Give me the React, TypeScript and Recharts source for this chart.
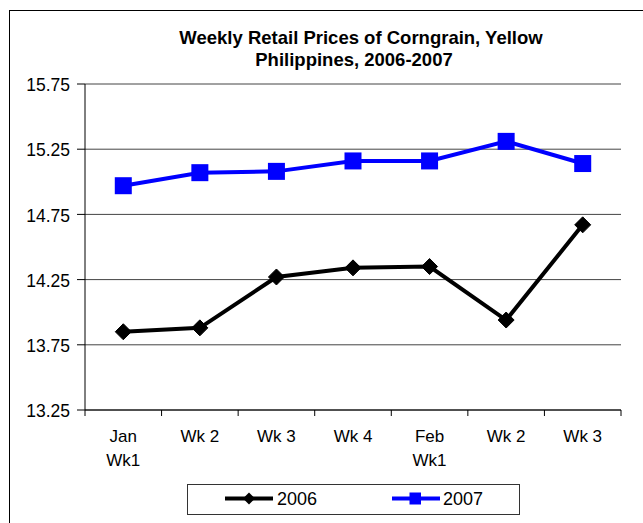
import React from "react";
import {
  LineChart,
  Line,
  XAxis,
  YAxis,
  CartesianGrid,
} from "recharts";

const categories = ["Jan\nWk1", "Wk 2", "Wk 3", "Wk 4", "Feb\nWk1", "Wk 2", "Wk 3"];
const prices2006 = [13.85, 13.88, 14.27, 14.34, 14.35, 13.94, 14.67];
const prices2007 = [14.97, 15.07, 15.08, 15.16, 15.16, 15.31, 15.14];
const yTicks = [13.25, 13.75, 14.25, 14.75, 15.25, 15.75];
const titleLines = ["Weekly Retail Prices of Corngrain, Yellow", "Philippines, 2006-2007"];
const seriesNames = ["2006", "2007"];

const data = categories.map((c, i) => ({
  pos: i + 0.5,
  label: c,
  y2006: prices2006[i],
  y2007: prices2007[i],
}));
const bandTicks = [0, ...categories.map((_, i) => i + 1)];
const centerTicks = categories.map((_, i) => i + 0.5);

const FONT = "'Liberation Sans', Arial, Helvetica, sans-serif";

const Diamond = (props: any) => {
  const { cx, cy } = props;
  if (cx == null || cy == null) return null;
  const r = 8;
  return (
    <polygon
      points={`${cx},${cy - r} ${cx + r},${cy} ${cx},${cy + r} ${cx - r},${cy}`}
      fill="#000000"
      stroke="#000000"
    />
  );
};

const Square = (props: any) => {
  const { cx, cy } = props;
  if (cx == null || cy == null) return null;
  const r = 8.5;
  return <rect x={cx - r} y={cy - r} width={2 * r} height={2 * r} fill="#0000FF" />;
};

const XTick = (props: any) => {
  const { x, y, payload } = props;
  const idx = Math.round(payload.value - 0.5);
  const lines = String(categories[idx] ?? "").split("\n");
  return (
    <text x={x} y={y} textAnchor="middle" fontFamily={FONT} fontSize={17} fill="#000">
      {lines.map((l, i) => (
        <tspan key={i} x={x} dy={i === 0 ? 23 : 24}>
          {l}
        </tspan>
      ))}
    </text>
  );
};

const EmptyTick = () => <g />;

export default function App() {
  return (
    <div style={{ position: "absolute", left: 0, top: 0, width: 643, height: 523, background: "#fff", overflow: "hidden" }}>
      <div
        style={{
          position: "absolute",
          left: 9,
          top: 10,
          width: 700,
          height: 600,
          border: "1px solid #000",
          boxSizing: "border-box",
        }}
      />
      <svg width={643} height={80} style={{ position: "absolute", left: 0, top: 0 }}>
        <text x={361} y={44} textAnchor="middle" fontFamily={FONT} fontWeight="bold" fontSize={18.5} fill="#000">
          {titleLines[0]}
        </text>
        <text x={354} y={66} textAnchor="middle" fontFamily={FONT} fontWeight="bold" fontSize={18.5} fill="#000">
          {titleLines[1]}
        </text>
      </svg>
      <div style={{ position: "absolute", left: 0, top: 0 }}>
        <LineChart
          width={643}
          height={523}
          data={data}
          margin={{ top: 84, right: 22, left: 0, bottom: 0 }}
        >
          <CartesianGrid vertical={false} stroke="#444" strokeWidth={1} yAxisId="left" xAxisId="cat" />
          <XAxis
            xAxisId="band"
            type="number"
            dataKey="pos"
            domain={[0, 7]}
            ticks={bandTicks}
            interval={0}
            height={1}
            axisLine={{ stroke: "#000", strokeWidth: 1 }}
            tickLine={{ stroke: "#000", strokeWidth: 1 }}
            tickSize={6}
            tick={<EmptyTick />}
          />
          <XAxis
            xAxisId="cat"
            type="number"
            dataKey="pos"
            domain={[0, 7]}
            ticks={centerTicks}
            interval={0}
            height={112}
            axisLine={false}
            tickLine={false}
            tick={<XTick />}
          />
          <YAxis
            yAxisId="left"
            width={85}
            domain={[13.25, 15.75]}
            ticks={yTicks}
            interval={0}
            tickFormatter={(v: number) => v.toFixed(2)}
            axisLine={{ stroke: "#000", strokeWidth: 1 }}
            tickLine={{ stroke: "#000" }}
            tickSize={8}
            tickMargin={7}
            tick={{ fontFamily: FONT, fontSize: 17.5, fill: "#000", dy: 1 }}
          />
          <YAxis
            yAxisId="right"
            orientation="right"
            width={0}
            domain={[0, 1]}
            tick={false}
            tickLine={false}
            axisLine={{ stroke: "#808080", strokeWidth: 2 }}
          />
          <Line
            xAxisId="cat"
            yAxisId="left"
            dataKey="y2006"
            name={seriesNames[0]}
            stroke="#000000"
            strokeWidth={4}
            dot={<Diamond />}
            isAnimationActive={false}
          />
          <Line
            xAxisId="cat"
            yAxisId="left"
            dataKey="y2007"
            name={seriesNames[1]}
            stroke="#0000FF"
            strokeWidth={4}
            dot={<Square />}
            isAnimationActive={false}
          />
        </LineChart>
      </div>
      <div
        style={{
          position: "absolute",
          left: 187,
          top: 484,
          width: 333,
          height: 31,
          border: "1px solid #333",
          boxSizing: "border-box",
        }}
      >
        <svg width={333} height={31} style={{ position: "absolute", left: -1, top: -1 }}>
          <line x1={38} x2={86} y1={14.5} y2={14.5} stroke="#000" strokeWidth={4} />
          <polygon points="62,8.5 68,14.5 62,20.5 56,14.5" fill="#000" />
          <text x={90} y={21} fontFamily={FONT} fontSize={18} fill="#000">{seriesNames[0]}</text>
          <line x1={205} x2={253} y1={14.5} y2={14.5} stroke="#0000FF" strokeWidth={4} />
          <rect x={222.5} y={8.5} width={11.5} height={12} fill="#0000FF" />
          <text x={256} y={21} fontFamily={FONT} fontSize={18} fill="#000">{seriesNames[1]}</text>
        </svg>
      </div>
    </div>
  );
}
